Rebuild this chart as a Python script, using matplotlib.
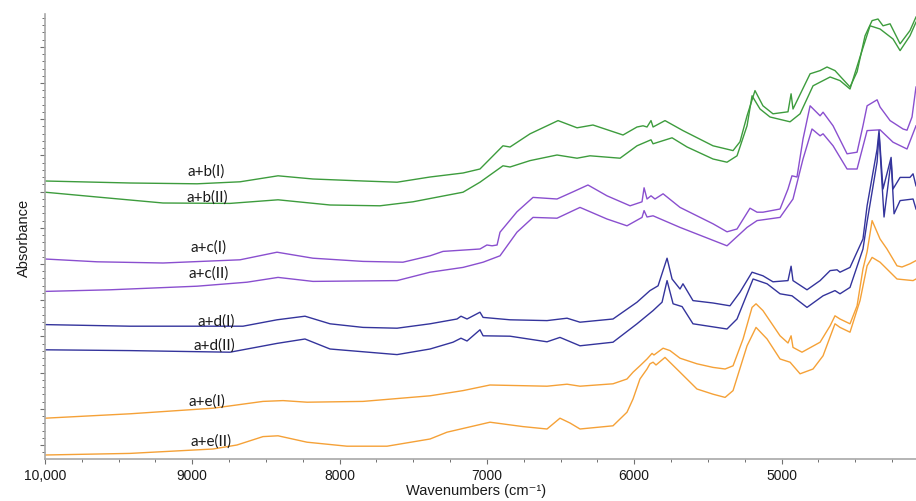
import matplotlib
matplotlib.use('Agg')
import matplotlib.pyplot as plt
from matplotlib.ticker import MultipleLocator, FixedLocator

plt.rcParams['font.family'] = ['Liberation Sans', 'DejaVu Sans']

# spectra, wavenumber (cm-1) vs absorbance (arbitrary units, offset stacked)
wn_b1 = [10000, 9423, 8968, 8676, 8418, 8181, 7841, 7610, 7386, 7162, 7047, 6891,
         6843, 6707, 6517, 6388, 6280, 6076, 5981, 5940, 5913, 5886, 5872, 5791,
         5669, 5465, 5329, 5282, 5234, 5180, 5126, 5058, 4956, 4935, 4922, 4806,
         4738, 4691, 4637, 4535, 4487, 4433, 4385, 4345, 4311, 4263, 4195, 4128, 4087]
ab_b1 = [0.695, 0.690, 0.688, 0.693, 0.708, 0.700, 0.695, 0.692, 0.705, 0.715, 0.725, 0.783,
         0.780, 0.813, 0.846, 0.828, 0.835, 0.810, 0.830, 0.833, 0.830, 0.846, 0.830, 0.846,
         0.821, 0.783, 0.771, 0.793, 0.858, 0.921, 0.883, 0.863, 0.868, 0.913, 0.875, 0.963,
         0.971, 0.980, 0.971, 0.930, 0.968, 1.058, 1.096, 1.100, 1.083, 1.088, 1.038, 1.071, 1.105]

wn_b2 = [10000, 9647, 9199, 8744, 8418, 8065, 7726, 7502, 7162, 7047, 6891, 6843,
         6707, 6524, 6388, 6300, 6096, 5981, 5886, 5872, 5743, 5641, 5465, 5370, 5302,
         5234, 5200, 5146, 5078, 4942, 4874, 4786, 4670, 4603, 4535, 4467, 4399,
         4331, 4243, 4195, 4128, 4087]
ab_b2 = [0.667, 0.655, 0.640, 0.639, 0.648, 0.635, 0.633, 0.643, 0.667, 0.692, 0.733, 0.730,
         0.746, 0.760, 0.752, 0.758, 0.752, 0.783, 0.798, 0.788, 0.803, 0.780, 0.750, 0.742, 0.758,
         0.833, 0.908, 0.875, 0.855, 0.843, 0.863, 0.933, 0.955, 0.946, 0.925, 1.005, 1.083,
         1.075, 1.050, 1.021, 1.058, 1.092]

wn_c1 = [10000, 9647, 9199, 8676, 8425, 8181, 7841, 7570, 7386, 7298, 7047, 7000,
         6965, 6931, 6911, 6796, 6687, 6524, 6415, 6314, 6185, 6028, 5947, 5933,
         5913, 5886, 5859, 5804, 5689, 5465, 5370, 5302, 5214, 5166, 5126, 5010,
         4956, 4929, 4895, 4854, 4806, 4738, 4718, 4650, 4555, 4487, 4447, 4419,
         4351, 4331, 4263, 4175, 4148, 4114, 4087]
ab_c1 = [0.500, 0.493, 0.490, 0.498, 0.517, 0.502, 0.494, 0.492, 0.508, 0.519, 0.525, 0.535,
         0.533, 0.535, 0.567, 0.618, 0.654, 0.650, 0.668, 0.685, 0.658, 0.633, 0.643, 0.678,
         0.650, 0.658, 0.650, 0.663, 0.629, 0.588, 0.568, 0.575, 0.627, 0.617, 0.617, 0.625,
         0.675, 0.708, 0.705, 0.800, 0.883, 0.858, 0.867, 0.833, 0.763, 0.767, 0.833, 0.883,
         0.898, 0.880, 0.846, 0.825, 0.822, 0.855, 0.930]

wn_c2 = [10000, 9559, 8968, 8629, 8418, 8181, 7610, 7386, 7162, 7026, 6911, 6796,
         6687, 6524, 6368, 6185, 6049, 5947, 5933, 5913, 5872, 5689, 5370, 5234,
         5166, 5010, 4922, 4854, 4793, 4738, 4718, 4650, 4555, 4487, 4419, 4331,
         4243, 4148, 4087]
ab_c2 = [0.419, 0.423, 0.432, 0.442, 0.454, 0.444, 0.446, 0.467, 0.479, 0.492, 0.508, 0.567,
         0.604, 0.602, 0.629, 0.600, 0.583, 0.604, 0.621, 0.605, 0.608, 0.579, 0.533, 0.579,
         0.596, 0.604, 0.650, 0.750, 0.825, 0.808, 0.813, 0.783, 0.725, 0.725, 0.821, 0.823,
         0.792, 0.775, 0.833]

wn_d1 = [10000, 9423, 8656, 8425, 8235, 8065, 7841, 7610, 7386, 7203, 7176, 7135,
         7047, 7026, 6843, 6592, 6456, 6368, 6144, 5981, 5893, 5838, 5777, 5743,
         5689, 5669, 5601, 5465, 5350, 5282, 5200, 5126, 5058, 4956, 4935, 4922,
         4827, 4738, 4670, 4623, 4603, 4535, 4447, 4419, 4351, 4338, 4311, 4256,
         4243, 4195, 4128, 4107, 4087]
ab_d1 = [0.336, 0.332, 0.332, 0.348, 0.357, 0.338, 0.329, 0.327, 0.338, 0.350, 0.357, 0.350,
         0.367, 0.354, 0.348, 0.346, 0.352, 0.342, 0.350, 0.392, 0.421, 0.433, 0.502, 0.450,
         0.425, 0.438, 0.396, 0.390, 0.383, 0.417, 0.467, 0.458, 0.443, 0.446, 0.482, 0.446,
         0.423, 0.446, 0.471, 0.473, 0.467, 0.479, 0.550, 0.633, 0.775, 0.821, 0.675, 0.754,
         0.675, 0.704, 0.704, 0.713, 0.683]

wn_d2 = [10000, 9423, 8744, 8425, 8235, 8065, 7610, 7386, 7230, 7176, 7135, 7047,
         7026, 6843, 6592, 6504, 6368, 6144, 5981, 5872, 5811, 5777, 5736, 5675,
         5601, 5370, 5302, 5193, 5098, 5010, 4929, 4827, 4718, 4637, 4603, 4535,
         4447, 4419, 4351, 4338, 4304, 4256, 4236, 4195, 4107, 4087]
ab_d2 = [0.273, 0.271, 0.267, 0.289, 0.300, 0.275, 0.261, 0.275, 0.292, 0.302, 0.295, 0.323,
         0.308, 0.307, 0.293, 0.304, 0.283, 0.292, 0.338, 0.371, 0.392, 0.446, 0.388, 0.381,
         0.338, 0.325, 0.350, 0.450, 0.438, 0.413, 0.408, 0.379, 0.408, 0.421, 0.413, 0.429,
         0.525, 0.593, 0.743, 0.813, 0.605, 0.746, 0.613, 0.646, 0.650, 0.625]

wn_e1 = [10000, 9423, 8859, 8520, 8384, 8221, 7841, 7386, 7162, 6979, 6592, 6456,
         6368, 6144, 6049, 6008, 5961, 5913, 5879, 5866, 5804, 5757, 5689, 5574, 5465, 5383, 5329,
         5261, 5200, 5173, 5126, 5010, 4956, 4935, 4922, 4861, 4738, 4670, 4637,
         4603, 4535, 4487, 4447, 4419, 4385, 4331, 4284, 4216, 4182, 4128, 4087]
ab_e1 = [0.102, 0.113, 0.127, 0.144, 0.146, 0.142, 0.144, 0.158, 0.171, 0.185, 0.182, 0.187,
         0.182, 0.188, 0.200, 0.217, 0.233, 0.250, 0.264, 0.260, 0.277, 0.271, 0.252, 0.238, 0.229, 0.225, 0.233,
         0.300, 0.379, 0.388, 0.371, 0.308, 0.290, 0.308, 0.279, 0.267, 0.292, 0.333, 0.358,
         0.350, 0.338, 0.383, 0.475, 0.518, 0.596, 0.550, 0.525, 0.483, 0.480, 0.488, 0.496]

wn_e2 = [10000, 9423, 8859, 8697, 8520, 8418, 8221, 7950, 7678, 7386, 7271, 6979,
         6755, 6592, 6504, 6436, 6368, 6144, 6049, 6008, 5961, 5913, 5893, 5872, 5852, 5791,
         5689, 5574, 5465, 5383, 5329, 5234, 5173, 5098, 5010, 4942, 4874, 4786, 4718,
         4637, 4603, 4535, 4467, 4419, 4385, 4331, 4216, 4107, 4087]
ab_e2 = [0.010, 0.014, 0.025, 0.035, 0.056, 0.058, 0.042, 0.032, 0.032, 0.050, 0.067, 0.092,
         0.081, 0.075, 0.102, 0.090, 0.075, 0.083, 0.117, 0.150, 0.200, 0.225, 0.238, 0.242, 0.235, 0.254,
         0.217, 0.175, 0.162, 0.154, 0.171, 0.283, 0.329, 0.300, 0.250, 0.242, 0.213, 0.225, 0.258,
         0.338, 0.329, 0.317, 0.396, 0.483, 0.504, 0.492, 0.450, 0.446, 0.450]

labels = ['a+b(I)', 'a+b(II)', 'a+c(I)', 'a+c(II)',
          'a+d(I)', 'a+d(II)', 'a+e(I)', 'a+e(II)']
label_pos = [(8907, 0.722), (8900, 0.657), (8887, 0.532), (8887, 0.467),
             (8839, 0.347), (8853, 0.287), (8900, 0.147), (8873, 0.047)]

GREEN = '#3d9c3d'
PURPLE = '#8a4fcf'
BLUE = '#34349c'
ORANGE = '#f5a137'


def init_figure():
    figure = plt.figure(figsize=(9.16, 5.02), dpi=100)
    ax = figure.add_axes([45 / 916, 42 / 502, 871 / 916, 445 / 502])
    ax.set_xlim(10000, 4087)
    ax.set_ylim(0, 1.1125)
    for side in ('top', 'right'):
        ax.spines[side].set_visible(False)
    for side in ('left', 'bottom'):
        ax.spines[side].set_color('#a8a8a8')
        ax.spines[side].set_linewidth(1.2)

    ax.xaxis.set_major_locator(FixedLocator([10000, 9000, 8000, 7000, 6000, 5000]))
    ax.set_xticklabels(['10,000', '9000', '8000', '7000', '6000', '5000'])
    ax.xaxis.set_minor_locator(MultipleLocator(250))
    ax.yaxis.set_major_locator(MultipleLocator(0.0905, offset=0.035))
    ax.yaxis.set_minor_locator(MultipleLocator(0.0181, offset=0.035))
    ax.set_yticklabels([])
    ax.tick_params(axis='both', which='major', direction='out', length=3.5,
                   width=0.8, color='#707070', labelsize=10, labelcolor='#1a1a1a', pad=3)
    ax.tick_params(axis='both', which='minor', direction='out', length=2,
                   width=0.7, color='#707070')

    ax.set_xlabel('Wavenumbers (cm\u207b\u00b9)', fontsize=10.5, color='#1a1a1a')
    ax.xaxis.set_label_coords(0.495, -0.055)
    ax.set_ylabel('Absorbance', fontsize=10.5, color='#1a1a1a', labelpad=3.5)
    return figure, ax


def draw_spectra(ax):
    curves = [(wn_b1, ab_b1, GREEN), (wn_b2, ab_b2, GREEN),
              (wn_c1, ab_c1, PURPLE), (wn_c2, ab_c2, PURPLE),
              (wn_d1, ab_d1, BLUE), (wn_d2, ab_d2, BLUE),
              (wn_e1, ab_e1, ORANGE), (wn_e2, ab_e2, ORANGE)]
    for x, y, color in curves:
        ax.plot(x, y, color=color, linewidth=1.0)
    for text, (x, y) in zip(labels, label_pos):
        ax.text(x, y, text, ha='center', va='center', fontsize=11,
                family=['Lato', 'DejaVu Sans'], color='#1a1a1a')


figure, ax = init_figure()
draw_spectra(ax)
plt.savefig('out.png', dpi=100)
